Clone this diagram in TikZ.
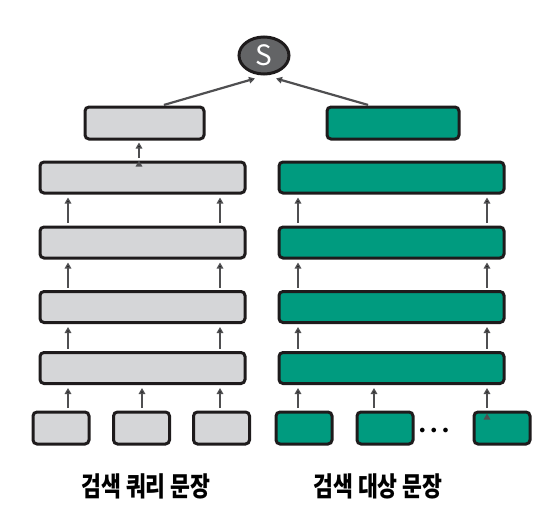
\documentclass[tikz,border=0pt]{standalone}
\usepackage{fontspec}
\newfontfamily\krfont{Noto Sans CJK KR}[FakeStretch=0.8]
\newfontfamily\sfont{Noto Sans CJK KR}
\usetikzlibrary{shapes.geometric,arrows.meta}
\definecolor{qgray}{HTML}{D5D6D8}
\definecolor{dgreen}{HTML}{009B7F}
\definecolor{sgray}{HTML}{636466}
\definecolor{agray}{HTML}{4F4F51}
\definecolor{bline}{HTML}{1E1B1C}
\tikzset{
    block/.style={draw=bline, line width=3pt, rounded corners=4pt, inner sep=0pt},
    qbox/.style={block, fill=qgray},
    dbox/.style={block, fill=dgreen},
    qlayer/.style={qbox, minimum width=205pt, minimum height=31pt},
    dlayer/.style={dbox, minimum width=225pt, minimum height=31pt},
    tok/.style={minimum width=56pt, minimum height=32pt},
    arr/.style={draw=agray, line width=2.2pt, -{Triangle[length=6pt,width=6.5pt]}},
    gap/.style={shorten <=2.5pt, shorten >=3pt},
    lab/.style={font=\krfont\bfseries\fontsize{27}{27}\selectfont}
}

\begin{document}
\begin{tikzpicture}[x=1pt,y=-1pt]
        \useasboundingbox (0,0) rectangle (547,517);

        \node[ellipse, draw=bline, line width=3pt, fill=sgray, minimum width=50pt, minimum height=37pt, inner sep=0pt,
              text=white, font=\sfont\fontsize{28}{28}\selectfont] at (264, 55.5)(s){S};

        \node[qbox, minimum width=119pt, minimum height=32pt] at (144.5, 123)(qtop){};
        \node[dbox, minimum width=132pt, minimum height=32pt] at (393, 123)(dtop){};

        \node[qlayer] at (142.5, 177.5)(q1){};
        \node[qlayer] at (142.5, 242.5)(q2){};
        \node[qlayer] at (142.5, 307)(q3){};
        \node[qlayer] at (142.5, 368)(q4){};
        \node[dlayer] at (391.5, 177.5)(d1){};
        \node[dlayer] at (391.5, 242.5)(d2){};
        \node[dlayer] at (391.5, 307)(d3){};
        \node[dlayer] at (391.5, 368)(d4){};

        \node[qbox, tok] at (61, 428)(qt1){};
        \node[qbox, tok] at (141.5, 428)(qt2){};
        \node[qbox, tok] at (221.5, 428)(qt3){};
        \node[dbox, tok] at (304, 428)(dt1){};
        \node[dbox, tok] at (385, 428)(dt2){};
        \node[dbox, tok] at (502, 428)(dt3){};
        \node[font=\fontsize{13}{13}\selectfont, inner sep=0pt] at (434, 431)(dots){$\bullet\hspace{3pt}\bullet\hspace{3pt}\bullet$};

        \node[lab] at (146, 486)(qlab){검색 쿼리 문장};
        \node[lab] at (378, 486)(dlab){검색 대상 문장};

        \path[arr]
        ([xshift=17.5pt]qtop.north)edge[shorten <=2pt]([xshift=-9pt,yshift=-3pt]s.south)
        ([xshift=-23pt]dtop.north)edge[shorten <=2pt]([xshift=12pt,yshift=-3pt]s.south)
        ([xshift=-3.5pt]q1.north)edge[shorten <=2.5pt, shorten >=2pt]([xshift=-5.5pt]qtop.south)
        ;

        \path[arr, gap]
        ([xshift=-74.5pt]q2.north)edge([xshift=-74.5pt]q1.south)
        ([xshift=77.5pt]q2.north)edge([xshift=77.5pt]q1.south)
        ([xshift=-74.5pt]q3.north)edge([xshift=-74.5pt]q2.south)
        ([xshift=77.5pt]q3.north)edge([xshift=77.5pt]q2.south)
        ([xshift=-74.5pt]q4.north)edge([xshift=-74.5pt]q3.south)
        ([xshift=77.5pt]q4.north)edge([xshift=77.5pt]q3.south)
        ([xshift=-93.5pt]d2.north)edge([xshift=-93.5pt]d1.south)
        ([xshift=95.5pt]d2.north)edge([xshift=95.5pt]d1.south)
        ([xshift=-93.5pt]d3.north)edge([xshift=-93.5pt]d2.south)
        ([xshift=95.5pt]d3.north)edge([xshift=95.5pt]d2.south)
        ([xshift=-93.5pt]d4.north)edge([xshift=-93.5pt]d3.south)
        ([xshift=95.5pt]d4.north)edge([xshift=95.5pt]d3.south)
        ([xshift=7pt]qt1.north)edge([xshift=-74.5pt]q4.south)
        ([xshift=0.5pt]qt2.north)edge([xshift=-0.5pt]q4.south)
        ([xshift=-1.5pt]qt3.north)edge([xshift=77.5pt]q4.south)
        ([xshift=-6pt]dt1.north)edge([xshift=-93.5pt]d4.south)
        ([xshift=-11pt]dt2.north)edge([xshift=-17.5pt]d4.south)
        ([xshift=-15pt]dt3.north)edge([xshift=95.5pt]d4.south)
        ;
    \end{tikzpicture}
\end{document}
